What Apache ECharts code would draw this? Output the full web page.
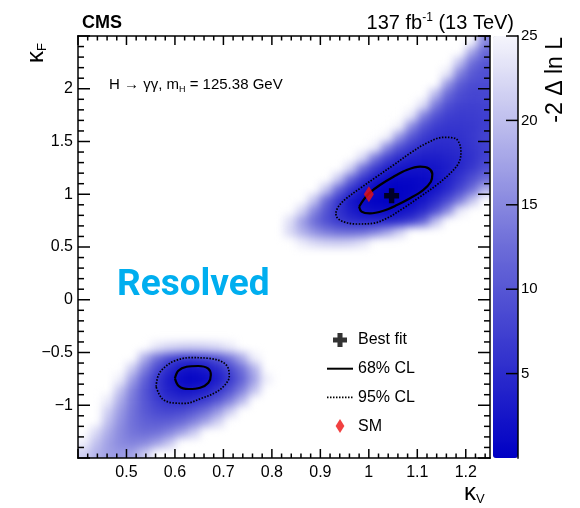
<!DOCTYPE html>
<html>
<head>
<meta charset="utf-8">
<script src="https://cdn.jsdelivr.net/npm/echarts@6/dist/echarts.min.js"></script>
<style>
  html, body { margin: 0; padding: 0; background: #fff; }
  #wrap { position: relative; width: 580px; height: 508px; overflow: hidden; }
  /* the likelihood surface sits under the axes, clipped to the frame */
  #heatClip { position: absolute; left: 78px; top: 36px; width: 412px; height: 422px; overflow: hidden; z-index: 0; }
  #heat { position: absolute; left: -16px; top: -16px; width: 444px; height: 454px; filter: blur(4.5px); }
  #main { position: absolute; left: 0; top: 0; width: 580px; height: 508px; z-index: 1; }
  #frame { position: absolute; left: 0; top: 0; width: 580px; height: 508px; z-index: 2; pointer-events: none; }
</style>
</head>
<body>
<div id="wrap">
  <div id="heatClip"><div id="heat"></div></div>
  <div id="main"></div>
  <div id="frame"></div>
</div>
<script>
const FONT = '"Liberation Sans", Arial, Helvetica, sans-serif';

// axis ranges
const KV_MIN = 0.4, KV_MAX = 1.25;
const KF_MIN = -1.5, KF_MAX = 2.5;
const Z_MIN = 0, Z_MAX = 25;

// tick marks
const kvMajorTicks = [0.4, 0.5, 0.6, 0.7, 0.8, 0.9, 1.0, 1.1, 1.2];
const kfMajorTicks = [-1.5, -1, -0.5, 0, 0.5, 1, 1.5, 2, 2.5];
const zTicks = [5, 10, 15, 20, 25];
const KV_MINOR_STEP = 0.02;
const KF_MINOR_STEP = 0.1;

// scan binning
const KV_BIN = 0.025;
const KF_BIN = 0.1;

// colour scale of -2 Δ ln L
const PALETTE = ['#0000c4', '#6c6cd8', '#f6f6fc'];

// -2 Δ ln L per κF row: [κF bin centre, κV centre of first filled bin, values along κV]
// (bins above 25 are left empty)
const scanUpper = [
  [0.55, 0.8625, [23.9, 22.2, 21.3, 21.0, 21.5, 23.0]],
  [0.65, 0.8375, [22.3, 18.7, 15.8, 13.8, 12.5, 12.0, 12.5, 14.2, 17.2, 21.3]],
  [0.75, 0.8375, [22.9, 17.1, 12.5, 9.1, 6.7, 5.3, 4.6, 4.4, 4.4, 5.0, 6.9, 11.3, 19.9]],
  [0.85, 0.8625, [21.9, 14.9, 9.6, 5.8, 3.3, 1.9, 1.4, 1.4, 1.7, 2.7, 4.9, 8.9, 15.1, 23.9]],
  [0.95, 0.8875, [20.5, 12.0, 6.3, 2.7, 0.9, 0.2, 0.05, 0.2, 0.9, 2.4, 4.9, 8.6, 13.7, 20.2]],
  [1.05, 0.9125, [20.4, 11.7, 6.0, 2.5, 0.8, 0.2, 0.1, 0.3, 1.0, 2.4, 4.8, 8.2, 12.7, 18.6]],
  [1.15, 0.9375, [20.7, 11.9, 6.2, 2.8, 1.2, 0.7, 0.7, 1.0, 1.9, 3.7, 6.0, 9.0, 12.5]],
  [1.25, 0.9625, [21.6, 12.6, 6.9, 3.7, 2.4, 2.0, 2.0, 2.4, 3.3, 4.6, 6.5, 9.0]],
  [1.35, 0.9875, [22.5, 13.6, 8.0, 5.0, 3.7, 3.4, 3.4, 3.9, 4.5, 5.7, 7.5]],
  [1.45, 1.0125, [24.3, 15.2, 9.5, 6.4, 5.1, 4.8, 4.9, 5.3, 6.1, 7.2]],
  [1.55, 1.0375, [24.8, 16.2, 10.1, 6.9, 5.7, 5.5, 5.7, 6.5, 7.7]],
  [1.65, 1.0625, [24.8, 15.3, 9.7, 7.1, 6.3, 6.2, 6.5, 7.2]],
  [1.75, 1.0875, [23.8, 14.5, 9.5, 7.3, 6.8, 6.9, 7.3]],
  [1.85, 1.1125, [22.8, 13.8, 9.2, 7.6, 7.4, 7.6]],
  [1.95, 1.1375, [19.3, 12.0, 8.8, 8.0, 8.1]],
  [2.05, 1.1625, [16.4, 10.8, 8.8, 8.6]],
  [2.15, 1.1625, [23.7, 14.4, 10.3, 9.2]],
  [2.25, 1.1875, [20.0, 12.7, 10.1]],
  [2.35, 1.2125, [17.4, 11.9]],
  [2.45, 1.2125, [24.7, 15.1]]
];

const scanLower = [
  [-1.45, 0.4125, [21.6, 18.8, 17.1, 16.5, 17.5, 21.0]],
  [-1.35, 0.4125, [24.5, 20.2, 17.1, 15.2, 14.5, 15.1, 17.1, 20.6]],
  [-1.25, 0.4375, [22.4, 18.2, 15.1, 13.2, 12.5, 12.9, 14.5, 17.1, 20.7]],
  [-1.15, 0.4625, [19.8, 15.8, 12.9, 11.2, 10.5, 10.9, 12.2, 14.4, 17.5, 21.6]],
  [-1.05, 0.4625, [21.5, 16.7, 13.0, 10.3, 8.6, 8.0, 8.4, 10.0, 12.6, 16.2, 21.0]],
  [-0.95, 0.4625, [23.9, 18.2, 13.5, 9.9, 7.2, 5.6, 5.0, 5.5, 7.1, 10.0, 14.0, 19.3]],
  [-0.85, 0.4875, [20.3, 14.4, 9.7, 6.2, 3.8, 2.5, 2.4, 3.5, 5.8, 9.3, 14.1, 20.1]],
  [-0.75, 0.4875, [24.2, 16.9, 11.0, 6.4, 3.1, 1.1, 0.5, 1.2, 3.2, 6.5, 11.1, 17.0, 24.2]],
  [-0.65, 0.5125, [20.9, 14.0, 8.6, 4.9, 2.6, 2.0, 2.8, 4.8, 8.1, 12.7, 18.6]],
  [-0.55, 0.5375, [18.3, 12.6, 8.6, 6.4, 6.1, 7.1, 9.4, 13.1, 18.0, 24.3]],
  [-0.45, 0.5625, [23.3, 21.9, 21.2, 21.0, 21.4, 22.3, 23.7]]
];

// confidence-level contours, [κV, κF]
const contour68Upper = [
  [0.980, 0.882], [0.989, 0.946], [1.002, 1.015], [1.023, 1.088], [1.051, 1.166],
  [1.078, 1.230], [1.106, 1.261], [1.123, 1.246], [1.131, 1.192], [1.128, 1.119],
  [1.112, 1.040], [1.085, 0.962], [1.058, 0.898], [1.030, 0.844], [1.002, 0.819],
  [0.985, 0.835], [0.980, 0.882]
];
const contour95Upper = [
  [0.932, 0.825], [0.937, 0.882], [0.954, 0.962], [0.982, 1.056], [1.016, 1.166],
  [1.051, 1.277], [1.085, 1.388], [1.119, 1.483], [1.154, 1.540], [1.178, 1.530],
  [1.188, 1.467], [1.190, 1.388], [1.185, 1.293], [1.168, 1.199], [1.140, 1.088],
  [1.106, 0.977], [1.071, 0.867], [1.037, 0.772], [1.009, 0.725], [0.975, 0.718],
  [0.947, 0.740], [0.934, 0.782], [0.932, 0.825]
];
const contour68Lower = [
  [0.600, -0.745], [0.607, -0.673], [0.624, -0.635], [0.648, -0.628], [0.668, -0.650],
  [0.674, -0.713], [0.669, -0.786], [0.652, -0.834], [0.628, -0.846], [0.608, -0.818],
  [0.600, -0.745]
];
const contour95Lower = [
  [0.561, -0.824], [0.566, -0.713], [0.580, -0.635], [0.600, -0.578], [0.631, -0.549],
  [0.669, -0.555], [0.697, -0.587], [0.710, -0.650], [0.712, -0.729], [0.703, -0.808],
  [0.683, -0.881], [0.655, -0.934], [0.621, -0.982], [0.593, -0.976], [0.573, -0.934],
  [0.561, -0.824]
];

const bestFit = [1.047, 0.986];
const smPoint = [1.0, 1.0];

const legendNames = ['Best fit', '68% CL', '95% CL', 'SM'];

// ---------------------------------------------------------------
const PLUS = 'path://M3.2,0H6.8V3.2H10V6.8H6.8V10H3.2V6.8H0V3.2H3.2Z';
const DIAMOND = 'path://M5,0L10,8L5,16L0,8Z';
const BLACK = '#000';
const LINE_W = 1.5;

// layout of the frame and the colour scale (pixels)
const PLOT = { left: 78, top: 36, width: 412, height: 422 };
const SCALE = { left: 493, top: 36, width: 25, height: 422 };
const MAJOR_X = 9, MINOR_X = 4.5, MAJOR_Y = 12, MINOR_Y = 6, SCALE_TICK = 12;

function toCells(rows) {
  const out = [];
  rows.forEach(([kf, kv0, vals]) => {
    vals.forEach((v, k) => out.push([+(kv0 + k * KV_BIN).toFixed(4), kf, v]));
  });
  return out;
}
const cells = toCells(scanUpper).concat(toCells(scanLower));

function minorTicks(lo, hi, step, majors) {
  const out = [];
  const n = Math.floor((hi - lo) / step + 1e-6);
  for (let k = 0; k <= n; k++) {
    const v = +(lo + k * step).toFixed(4);
    if (!majors.some(m => Math.abs(m - v) < 1e-6)) out.push(v);
  }
  return out;
}
const kvMinorTicks = minorTicks(KV_MIN, KV_MAX, KV_MINOR_STEP, kvMajorTicks);
const kfMinorTicks = minorTicks(KF_MIN, KF_MAX, KF_MINOR_STEP, kfMajorTicks);

// ---- likelihood surface ----
const PAD = 16;
const heat = echarts.init(document.getElementById('heat'));
heat.setOption({
  animation: false,
  grid: { left: PAD, right: PAD, top: PAD, bottom: PAD },
  xAxis: { type: 'value', min: KV_MIN, max: KV_MAX, show: false },
  yAxis: { type: 'value', min: KF_MIN, max: KF_MAX, show: false },
  visualMap: {
    type: 'continuous', show: false, min: Z_MIN, max: Z_MAX, dimension: 2,
    inRange: { color: PALETTE }
  },
  series: [{
    type: 'custom',
    coordinateSystem: 'cartesian2d',
    encode: { x: 0, y: 1 },
    data: cells,
    renderItem: function (params, api) {
      const x = api.value(0), y = api.value(1);
      const a = api.coord([x - KV_BIN / 2, y + KF_BIN / 2]);
      const b = api.coord([x + KV_BIN / 2, y - KF_BIN / 2]);
      let x0 = a[0], y0 = a[1], x1 = b[0], y1 = b[1];
      // bins touching the frame run on past it so the soft edge stays outside
      if (x - KV_BIN / 2 <= KV_MIN + 1e-6) x0 -= PAD;
      if (x + KV_BIN / 2 >= KV_MAX - 1e-6) x1 += PAD;
      if (y - KF_BIN / 2 <= KF_MIN + 1e-6) y1 += PAD;
      if (y + KF_BIN / 2 >= KF_MAX - 1e-6) y0 -= PAD;
      return {
        type: 'rect',
        shape: { x: x0, y: y0, width: x1 - x0 + 0.6, height: y1 - y0 + 0.6 },
        style: { fill: api.visual('color') }
      };
    }
  }]
});

// ---- labels, scale, contours, markers, legend ----
const xLabels = {
  show: true, showMinLabel: false, showMaxLabel: false,
  color: BLACK, fontSize: 16, fontFamily: FONT, margin: 7,
  formatter: v => String(+(+v).toFixed(2))
};
const yLabels = {
  show: true, showMinLabel: false, showMaxLabel: false,
  color: BLACK, fontSize: 16, fontFamily: FONT, margin: 5,
  formatter: v => (v < 0 ? '\u2212' : '') + String(Math.abs(+(+v).toFixed(2)))
};
function labelAxis(dim, labels) {
  const isX = dim === 'x';
  return {
    gridIndex: 0, type: 'value', position: isX ? 'bottom' : 'left',
    min: isX ? KV_MIN : KF_MIN, max: isX ? KV_MAX : KF_MAX, interval: isX ? 0.1 : 0.5,
    axisLine: { show: false, onZero: false },
    axisTick: { show: false }, minorTick: { show: false }, splitLine: { show: false },
    axisLabel: labels
  };
}

const textElements = [
  {
    type: 'text', x: 82, y: 23,
    style: { text: 'CMS', font: 'bold 18px ' + FONT, fill: BLACK, align: 'left', verticalAlign: 'middle' }
  },
  {
    type: 'text', x: 514, y: 23,
    style: {
      text: '{n|137 fb}{s|-1}{n| (13 TeV)}', align: 'right', verticalAlign: 'middle', fill: BLACK,
      rich: {
        n: { fontSize: 20, fontFamily: FONT, lineHeight: 22 },
        s: { fontSize: 12, fontFamily: FONT, lineHeight: 12, verticalAlign: 'top' }
      }
    }
  },
  {
    type: 'text', x: 109, y: 85,
    style: {
      text: '{n|H \u2192 \u03b3\u03b3, m}{s|H}{n| = 125.38 GeV}', align: 'left', verticalAlign: 'middle', fill: BLACK,
      rich: {
        n: { fontSize: 15, fontFamily: FONT, lineHeight: 19 },
        s: { fontSize: 9, fontFamily: FONT, lineHeight: 9, verticalAlign: 'bottom' }
      }
    }
  },
  {
    type: 'text', x: 117, y: 286,
    style: { text: 'Resolved', font: 'bold 37px Roboto', fill: '#00aeef', align: 'left', verticalAlign: 'middle' }
  },
  {
    type: 'text', x: 36, y: 63, rotation: Math.PI / 2,
    style: {
      text: '{k|\u03ba}{s|F}', align: 'left', verticalAlign: 'middle', fill: BLACK,
      rich: {
        k: { fontSize: 24, fontFamily: FONT, lineHeight: 26 },
        s: { fontSize: 13, fontFamily: FONT, lineHeight: 13, verticalAlign: 'bottom' }
      }
    }
  },
  {
    type: 'text', x: 464, y: 493,
    style: {
      text: '{k|\u03ba}{s|V}', align: 'left', verticalAlign: 'middle', fill: BLACK,
      rich: {
        k: { fontSize: 24, fontFamily: FONT, lineHeight: 26 },
        s: { fontSize: 13, fontFamily: FONT, lineHeight: 13, verticalAlign: 'bottom' }
      }
    }
  },
  {
    type: 'text', x: 556, y: 37, rotation: Math.PI / 2,
    style: { text: '-2 \u0394 ln L', font: '23px ' + FONT, fill: BLACK, align: 'right', verticalAlign: 'middle' }
  }
];

const main = echarts.init(document.getElementById('main'));
main.setOption({
  animation: false,
  grid: [PLOT, SCALE],
  xAxis: [
    labelAxis('x', xLabels),
    { gridIndex: 1, type: 'value', show: false, min: 0, max: 1 }
  ],
  yAxis: [
    labelAxis('y', yLabels),
    {
      gridIndex: 1, type: 'value', position: 'right', min: Z_MIN, max: Z_MAX, interval: 5,
      axisLine: { show: false, onZero: false },
      axisTick: { show: false },
      splitLine: { show: false },
      axisLabel: { showMinLabel: false, color: BLACK, fontSize: 15, fontFamily: FONT, margin: 3 }
    }
  ],
  visualMap: {
    type: 'continuous', min: Z_MIN, max: Z_MAX, seriesIndex: [], z: 1,
    left: SCALE.left, top: SCALE.top, itemWidth: SCALE.width, itemHeight: SCALE.height, padding: 0,
    calculable: false, hoverLink: false, text: null,
    inRange: { color: PALETTE }
  },
  legend: {
    orient: 'vertical', left: 326, top: 332, padding: 0,
    itemWidth: 26, itemHeight: 14, itemGap: 12.7,
    selectedMode: false,
    textStyle: { fontSize: 16, color: BLACK, fontFamily: FONT },
    data: [
      { name: legendNames[0], icon: PLUS },
      { name: legendNames[1], itemStyle: { opacity: 0 }, lineStyle: { width: 2, type: 'solid', color: BLACK } },
      { name: legendNames[2], itemStyle: { opacity: 0 }, lineStyle: { width: 1.6, type: [1.5, 1.5], color: BLACK } },
      { name: legendNames[3], icon: DIAMOND }
    ]
  },
  series: [
    {
      name: legendNames[1], type: 'line', data: contour68Upper, symbol: 'none', smooth: 0.35, silent: true,
      lineStyle: { color: BLACK, width: 2.2 }, itemStyle: { color: BLACK }, z: 3
    },
    {
      name: legendNames[1], type: 'line', data: contour68Lower, symbol: 'none', smooth: 0.35, silent: true,
      lineStyle: { color: BLACK, width: 2.2 }, itemStyle: { color: BLACK }, z: 3
    },
    {
      name: legendNames[2], type: 'line', data: contour95Upper, symbol: 'none', smooth: 0.35, silent: true,
      lineStyle: { color: BLACK, width: 1.7, type: [1.5, 1.5] }, itemStyle: { color: BLACK }, z: 3
    },
    {
      name: legendNames[2], type: 'line', data: contour95Lower, symbol: 'none', smooth: 0.35, silent: true,
      lineStyle: { color: BLACK, width: 1.7, type: [1.5, 1.5] }, itemStyle: { color: BLACK }, z: 3
    },
    {
      name: legendNames[3], type: 'scatter', data: [smPoint], symbol: 'diamond', symbolSize: [10, 16],
      itemStyle: { color: '#ee1111' }, silent: true, z: 4
    },
    {
      name: legendNames[0], type: 'scatter', data: [bestFit], symbol: PLUS, symbolSize: 15,
      itemStyle: { color: BLACK }, silent: true, z: 5
    }
  ],
  graphic: textElements
});

// ---- frame outline and tick marks, on a layer above everything ----
// axis value -> pixel, matching the linear value axes of the two grids
const kvToX = kv => PLOT.left + (kv - KV_MIN) / (KV_MAX - KV_MIN) * PLOT.width;
const kfToY = kf => PLOT.top + (KF_MAX - kf) / (KF_MAX - KF_MIN) * PLOT.height;
const zToY = z => SCALE.top + (Z_MAX - z) / (Z_MAX - Z_MIN) * SCALE.height;

const frameEls = [];
const HW = LINE_W / 2;
function bar(x, y, w, h) {
  frameEls.push({
    type: 'rect', silent: true,
    shape: { x: x, y: y, width: w, height: h },
    style: { fill: BLACK, stroke: null }
  });
}
const xL = kvToX(KV_MIN), xR = kvToX(KV_MAX), yT = kfToY(KF_MAX), yB = kfToY(KF_MIN);
bar(xL - HW, yT - HW, xR - xL + LINE_W, LINE_W);   // top
bar(xL - HW, yB - HW, xR - xL + LINE_W, LINE_W);   // bottom
bar(xL - HW, yT - HW, LINE_W, yB - yT + LINE_W);   // left
bar(xR - HW, yT - HW, LINE_W, yB - yT + LINE_W);   // right
function xTick(v, len) {
  const x = kvToX(v) - HW;
  bar(x, yB - len, LINE_W, len);
  bar(x, yT, LINE_W, len);
}
function yTick(v, len) {
  const y = kfToY(v) - HW;
  bar(xL, y, len, LINE_W);
  bar(xR - len, y, len, LINE_W);
}
kvMajorTicks.forEach(v => xTick(v, MAJOR_X));
kvMinorTicks.forEach(v => xTick(v, MINOR_X));
kfMajorTicks.forEach(v => yTick(v, MAJOR_Y));
kfMinorTicks.forEach(v => yTick(v, MINOR_Y));
const sx = SCALE.left + SCALE.width;
bar(sx - HW, zToY(Z_MAX) - HW, LINE_W, SCALE.height + LINE_W);
zTicks.forEach(z => bar(sx - SCALE_TICK, zToY(z) - HW, SCALE_TICK, LINE_W));

const frame = echarts.init(document.getElementById('frame'));
frame.setOption({
  animation: false,
  graphic: [{ type: 'group', silent: true, children: frameEls }]
});
</script>
</body>
</html>
